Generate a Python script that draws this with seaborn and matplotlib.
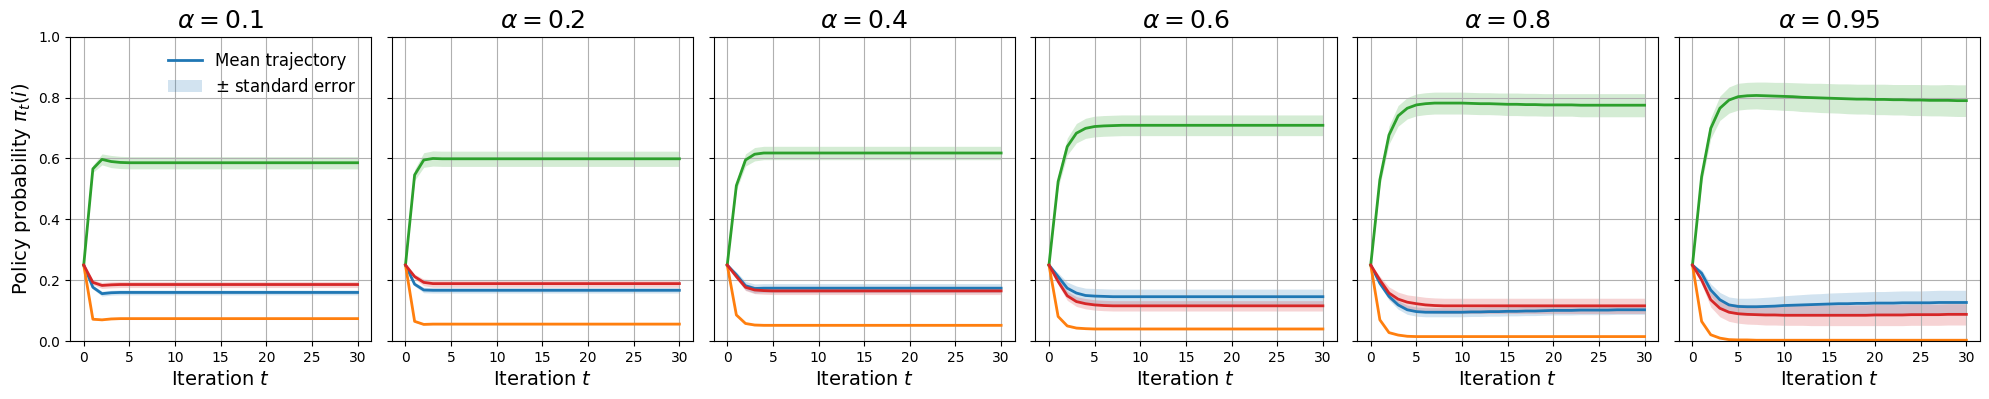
import matplotlib
matplotlib.use("Agg")
import matplotlib.pyplot as plt
import seaborn as sns
from matplotlib.lines import Line2D
from matplotlib.patches import Patch

iterations = list(range(31))
alphas = ["0.1", "0.2", "0.4", "0.6", "0.8", "0.95"]
colors = ["#1f77b4", "#ff7f0e", "#2ca02c", "#d62728"]

# alpha = 0.1
a01_blue = [0.250, 0.177, 0.156, 0.159, 0.160, 0.160, 0.160, 0.160, 0.160, 0.160,
            0.160, 0.160, 0.160, 0.160, 0.160, 0.160, 0.160, 0.160, 0.160, 0.160,
            0.160, 0.160, 0.160, 0.160, 0.160, 0.160, 0.160, 0.160, 0.160, 0.160, 0.160]
a01_orange = [0.250, 0.072, 0.070, 0.073, 0.074, 0.074, 0.074, 0.074, 0.074, 0.074,
              0.074, 0.074, 0.074, 0.074, 0.074, 0.074, 0.074, 0.074, 0.074, 0.074,
              0.074, 0.074, 0.074, 0.074, 0.074, 0.074, 0.074, 0.074, 0.074, 0.074, 0.074]
a01_green = [0.250, 0.566, 0.597, 0.590, 0.587, 0.586, 0.586, 0.586, 0.586, 0.586,
             0.586, 0.586, 0.586, 0.586, 0.586, 0.586, 0.586, 0.586, 0.586, 0.586,
             0.586, 0.586, 0.586, 0.586, 0.586, 0.586, 0.586, 0.586, 0.586, 0.586, 0.586]
a01_red = [0.250, 0.193, 0.183, 0.185, 0.186, 0.186, 0.186, 0.186, 0.186, 0.186,
           0.186, 0.186, 0.186, 0.186, 0.186, 0.186, 0.186, 0.186, 0.186, 0.186,
           0.186, 0.186, 0.186, 0.186, 0.186, 0.186, 0.186, 0.186, 0.186, 0.186, 0.186]
a01_blue_se = [0.000, 0.006, 0.008, 0.008, 0.008, 0.008, 0.008, 0.008, 0.008, 0.008,
               0.008, 0.008, 0.008, 0.008, 0.008, 0.008, 0.008, 0.008, 0.008, 0.008,
               0.008, 0.008, 0.008, 0.008, 0.008, 0.008, 0.008, 0.008, 0.008, 0.008, 0.008]
a01_orange_se = [0.000, 0.003, 0.003, 0.003, 0.003, 0.003, 0.003, 0.003, 0.003, 0.003,
                 0.003, 0.003, 0.003, 0.003, 0.003, 0.003, 0.003, 0.003, 0.003, 0.003,
                 0.003, 0.003, 0.003, 0.003, 0.003, 0.003, 0.003, 0.003, 0.003, 0.003, 0.003]
a01_green_se = [0.000, 0.012, 0.018, 0.020, 0.020, 0.020, 0.020, 0.020, 0.020, 0.020,
                0.020, 0.020, 0.020, 0.020, 0.020, 0.020, 0.020, 0.020, 0.020, 0.020,
                0.020, 0.020, 0.020, 0.020, 0.020, 0.020, 0.020, 0.020, 0.020, 0.020, 0.020]
a01_red_se = [0.000, 0.008, 0.010, 0.010, 0.010, 0.010, 0.010, 0.010, 0.010, 0.010,
              0.010, 0.010, 0.010, 0.010, 0.010, 0.010, 0.010, 0.010, 0.010, 0.010,
              0.010, 0.010, 0.010, 0.010, 0.010, 0.010, 0.010, 0.010, 0.010, 0.010, 0.010]

# alpha = 0.2
a02_blue = [0.250, 0.187, 0.168, 0.167, 0.167, 0.167, 0.167, 0.167, 0.167, 0.167,
            0.167, 0.167, 0.167, 0.167, 0.167, 0.167, 0.167, 0.167, 0.167, 0.167,
            0.167, 0.167, 0.167, 0.167, 0.167, 0.167, 0.167, 0.167, 0.167, 0.167, 0.167]
a02_orange = [0.250, 0.065, 0.055, 0.056, 0.056, 0.056, 0.056, 0.056, 0.056, 0.056,
              0.056, 0.056, 0.056, 0.056, 0.056, 0.056, 0.056, 0.056, 0.056, 0.056,
              0.056, 0.056, 0.056, 0.056, 0.056, 0.056, 0.056, 0.056, 0.056, 0.056, 0.056]
a02_green = [0.250, 0.546, 0.595, 0.600, 0.599, 0.599, 0.599, 0.599, 0.599, 0.599,
             0.599, 0.599, 0.599, 0.599, 0.599, 0.599, 0.599, 0.599, 0.599, 0.599,
             0.599, 0.599, 0.599, 0.599, 0.599, 0.599, 0.599, 0.599, 0.599, 0.599, 0.599]
a02_red = [0.250, 0.212, 0.193, 0.189, 0.189, 0.189, 0.189, 0.189, 0.189, 0.189,
           0.189, 0.189, 0.189, 0.189, 0.189, 0.189, 0.189, 0.189, 0.189, 0.189,
           0.189, 0.189, 0.189, 0.189, 0.189, 0.189, 0.189, 0.189, 0.189, 0.189, 0.189]
a02_blue_se = [0.000, 0.006, 0.009, 0.009, 0.009, 0.009, 0.009, 0.009, 0.009, 0.009,
               0.009, 0.009, 0.009, 0.009, 0.009, 0.009, 0.009, 0.009, 0.009, 0.009,
               0.009, 0.009, 0.009, 0.009, 0.009, 0.009, 0.009, 0.009, 0.009, 0.009, 0.009]
a02_orange_se = [0.000, 0.003, 0.003, 0.003, 0.003, 0.003, 0.003, 0.003, 0.003, 0.003,
                 0.003, 0.003, 0.003, 0.003, 0.003, 0.003, 0.003, 0.003, 0.003, 0.003,
                 0.003, 0.003, 0.003, 0.003, 0.003, 0.003, 0.003, 0.003, 0.003, 0.003, 0.003]
a02_green_se = [0.000, 0.018, 0.024, 0.025, 0.025, 0.025, 0.025, 0.025, 0.025, 0.025,
                0.025, 0.025, 0.025, 0.025, 0.025, 0.025, 0.025, 0.025, 0.025, 0.025,
                0.025, 0.025, 0.025, 0.025, 0.025, 0.025, 0.025, 0.025, 0.025, 0.025, 0.025]
a02_red_se = [0.000, 0.008, 0.011, 0.012, 0.012, 0.012, 0.012, 0.012, 0.012, 0.012,
              0.012, 0.012, 0.012, 0.012, 0.012, 0.012, 0.012, 0.012, 0.012, 0.012,
              0.012, 0.012, 0.012, 0.012, 0.012, 0.012, 0.012, 0.012, 0.012, 0.012, 0.012]

# alpha = 0.4
a04_blue = [0.250, 0.218, 0.182, 0.173, 0.174, 0.174, 0.174, 0.174, 0.174, 0.174,
            0.174, 0.174, 0.174, 0.174, 0.174, 0.174, 0.174, 0.174, 0.174, 0.174,
            0.174, 0.174, 0.174, 0.174, 0.174, 0.174, 0.174, 0.174, 0.174, 0.174, 0.174]
a04_orange = [0.250, 0.086, 0.058, 0.053, 0.052, 0.052, 0.052, 0.052, 0.052, 0.052,
              0.052, 0.052, 0.052, 0.052, 0.052, 0.052, 0.052, 0.052, 0.052, 0.052,
              0.052, 0.052, 0.052, 0.052, 0.052, 0.052, 0.052, 0.052, 0.052, 0.052, 0.052]
a04_green = [0.250, 0.511, 0.595, 0.614, 0.618, 0.618, 0.618, 0.618, 0.618, 0.618,
             0.618, 0.618, 0.618, 0.618, 0.618, 0.618, 0.618, 0.618, 0.618, 0.618,
             0.618, 0.618, 0.618, 0.618, 0.618, 0.618, 0.618, 0.618, 0.618, 0.618, 0.618]
a04_red = [0.250, 0.212, 0.177, 0.168, 0.166, 0.165, 0.165, 0.165, 0.165, 0.165,
           0.165, 0.165, 0.165, 0.165, 0.165, 0.165, 0.165, 0.165, 0.165, 0.165,
           0.165, 0.165, 0.165, 0.165, 0.165, 0.165, 0.165, 0.165, 0.165, 0.165, 0.165]
a04_blue_se = [0.000, 0.010, 0.014, 0.015, 0.015, 0.015, 0.015, 0.015, 0.015, 0.015,
               0.015, 0.015, 0.015, 0.015, 0.015, 0.015, 0.015, 0.015, 0.015, 0.015,
               0.015, 0.015, 0.015, 0.015, 0.015, 0.015, 0.015, 0.015, 0.015, 0.015, 0.015]
a04_orange_se = [0.000, 0.003, 0.003, 0.003, 0.003, 0.003, 0.003, 0.003, 0.003, 0.003,
                 0.003, 0.003, 0.003, 0.003, 0.003, 0.003, 0.003, 0.003, 0.003, 0.003,
                 0.003, 0.003, 0.003, 0.003, 0.003, 0.003, 0.003, 0.003, 0.003, 0.003, 0.003]
a04_green_se = [0.000, 0.015, 0.020, 0.022, 0.022, 0.022, 0.022, 0.022, 0.022, 0.022,
                0.022, 0.022, 0.022, 0.022, 0.022, 0.022, 0.022, 0.022, 0.022, 0.022,
                0.022, 0.022, 0.022, 0.022, 0.022, 0.022, 0.022, 0.022, 0.022, 0.022, 0.022]
a04_red_se = [0.000, 0.008, 0.011, 0.012, 0.012, 0.012, 0.012, 0.012, 0.012, 0.012,
              0.012, 0.012, 0.012, 0.012, 0.012, 0.012, 0.012, 0.012, 0.012, 0.012,
              0.012, 0.012, 0.012, 0.012, 0.012, 0.012, 0.012, 0.012, 0.012, 0.012, 0.012]

# alpha = 0.6
a06_blue = [0.250, 0.212, 0.174, 0.158, 0.150, 0.148, 0.147, 0.146, 0.146, 0.146,
            0.146, 0.146, 0.146, 0.146, 0.146, 0.146, 0.146, 0.146, 0.146, 0.146,
            0.146, 0.146, 0.146, 0.146, 0.146, 0.146, 0.146, 0.146, 0.146, 0.146, 0.146]
a06_orange = [0.250, 0.081, 0.050, 0.043, 0.041, 0.040, 0.040, 0.040, 0.040, 0.040,
              0.040, 0.040, 0.040, 0.040, 0.040, 0.040, 0.040, 0.040, 0.040, 0.040,
              0.040, 0.040, 0.040, 0.040, 0.040, 0.040, 0.040, 0.040, 0.040, 0.040, 0.040]
a06_green = [0.250, 0.524, 0.639, 0.683, 0.699, 0.705, 0.707, 0.708, 0.709, 0.709,
             0.709, 0.709, 0.709, 0.709, 0.709, 0.709, 0.709, 0.709, 0.709, 0.709,
             0.709, 0.709, 0.709, 0.709, 0.709, 0.709, 0.709, 0.709, 0.709, 0.709, 0.709]
a06_red = [0.250, 0.196, 0.149, 0.130, 0.123, 0.119, 0.117, 0.116, 0.116, 0.116,
           0.116, 0.116, 0.116, 0.116, 0.116, 0.116, 0.116, 0.116, 0.116, 0.116,
           0.116, 0.116, 0.116, 0.116, 0.116, 0.116, 0.116, 0.116, 0.116, 0.116, 0.116]
a06_blue_se = [0.000, 0.012, 0.020, 0.023, 0.024, 0.025, 0.025, 0.025, 0.025, 0.025,
               0.025, 0.025, 0.025, 0.025, 0.025, 0.025, 0.025, 0.025, 0.025, 0.025,
               0.025, 0.025, 0.025, 0.025, 0.025, 0.025, 0.025, 0.025, 0.025, 0.025, 0.025]
a06_orange_se = [0.000, 0.003, 0.003, 0.003, 0.003, 0.003, 0.003, 0.003, 0.003, 0.003,
                 0.003, 0.003, 0.003, 0.003, 0.003, 0.003, 0.003, 0.003, 0.003, 0.003,
                 0.003, 0.003, 0.003, 0.003, 0.003, 0.003, 0.003, 0.003, 0.003, 0.003, 0.003]
a06_green_se = [0.000, 0.020, 0.028, 0.032, 0.033, 0.034, 0.034, 0.034, 0.034, 0.034,
                0.034, 0.034, 0.034, 0.034, 0.034, 0.034, 0.034, 0.034, 0.034, 0.034,
                0.034, 0.034, 0.034, 0.034, 0.034, 0.034, 0.034, 0.034, 0.034, 0.034, 0.034]
a06_red_se = [0.000, 0.010, 0.015, 0.016, 0.017, 0.017, 0.017, 0.017, 0.017, 0.017,
              0.017, 0.017, 0.017, 0.017, 0.017, 0.017, 0.017, 0.017, 0.017, 0.017,
              0.017, 0.017, 0.017, 0.017, 0.017, 0.017, 0.017, 0.017, 0.017, 0.017, 0.017]

# alpha = 0.8
a08_blue = [0.250, 0.190, 0.147, 0.119, 0.103, 0.097, 0.095, 0.095, 0.095, 0.095,
            0.095, 0.096, 0.096, 0.097, 0.097, 0.098, 0.098, 0.099, 0.099, 0.100,
            0.101, 0.101, 0.101, 0.102, 0.102, 0.102, 0.102, 0.103, 0.103, 0.103, 0.103]
a08_orange = [0.250, 0.070, 0.028, 0.020, 0.016, 0.015, 0.015, 0.015, 0.015, 0.015,
              0.015, 0.015, 0.015, 0.015, 0.015, 0.015, 0.015, 0.015, 0.015, 0.015,
              0.015, 0.015, 0.015, 0.015, 0.015, 0.015, 0.015, 0.015, 0.015, 0.015, 0.015]
a08_green = [0.250, 0.530, 0.677, 0.740, 0.765, 0.776, 0.780, 0.782, 0.782, 0.782,
             0.782, 0.781, 0.780, 0.780, 0.779, 0.778, 0.778, 0.777, 0.777, 0.776,
             0.776, 0.776, 0.776, 0.775, 0.775, 0.775, 0.775, 0.775, 0.775, 0.775, 0.775]
a08_red = [0.250, 0.201, 0.158, 0.138, 0.128, 0.123, 0.119, 0.117, 0.116, 0.116,
           0.116, 0.116, 0.116, 0.116, 0.116, 0.116, 0.116, 0.116, 0.116, 0.116,
           0.116, 0.116, 0.116, 0.116, 0.116, 0.116, 0.116, 0.116, 0.116, 0.116, 0.116]
a08_blue_se = [0.000, 0.008, 0.012, 0.014, 0.015, 0.015, 0.015, 0.015, 0.015, 0.015,
               0.015, 0.015, 0.015, 0.015, 0.015, 0.015, 0.015, 0.015, 0.015, 0.015,
               0.015, 0.015, 0.015, 0.015, 0.015, 0.015, 0.015, 0.015, 0.015, 0.015, 0.015]
a08_orange_se = [0.000, 0.003, 0.002, 0.002, 0.002, 0.002, 0.002, 0.002, 0.002, 0.002,
                 0.002, 0.002, 0.002, 0.002, 0.002, 0.002, 0.002, 0.002, 0.002, 0.002,
                 0.002, 0.002, 0.002, 0.002, 0.002, 0.002, 0.002, 0.002, 0.002, 0.002, 0.002]
a08_green_se = [0.000, 0.020, 0.030, 0.034, 0.035, 0.036, 0.036, 0.036, 0.036, 0.036,
                0.036, 0.036, 0.036, 0.036, 0.036, 0.037, 0.037, 0.037, 0.037, 0.037,
                0.037, 0.037, 0.037, 0.038, 0.038, 0.038, 0.038, 0.038, 0.038, 0.038, 0.038]
a08_red_se = [0.000, 0.012, 0.020, 0.023, 0.024, 0.025, 0.025, 0.025, 0.025, 0.025,
              0.025, 0.025, 0.025, 0.025, 0.025, 0.025, 0.025, 0.025, 0.025, 0.025,
              0.025, 0.025, 0.025, 0.025, 0.025, 0.025, 0.025, 0.025, 0.025, 0.025, 0.025]

# alpha = 0.95
a095_blue = [0.250, 0.223, 0.168, 0.136, 0.119, 0.114, 0.113, 0.113, 0.114, 0.115,
             0.117, 0.118, 0.119, 0.120, 0.121, 0.122, 0.123, 0.123, 0.124, 0.124,
             0.125, 0.125, 0.125, 0.126, 0.126, 0.126, 0.126, 0.127, 0.127, 0.127, 0.127]
a095_orange = [0.250, 0.065, 0.021, 0.010, 0.005, 0.004, 0.004, 0.003, 0.003, 0.003,
               0.003, 0.003, 0.003, 0.003, 0.003, 0.003, 0.003, 0.003, 0.003, 0.003,
               0.003, 0.003, 0.003, 0.003, 0.003, 0.003, 0.003, 0.003, 0.003, 0.003, 0.003]
a095_green = [0.250, 0.540, 0.699, 0.765, 0.792, 0.803, 0.806, 0.807, 0.806, 0.805,
              0.804, 0.803, 0.801, 0.800, 0.799, 0.798, 0.797, 0.796, 0.795, 0.795,
              0.794, 0.794, 0.793, 0.793, 0.792, 0.792, 0.791, 0.791, 0.791, 0.790, 0.790]
a095_red = [0.250, 0.201, 0.136, 0.108, 0.095, 0.090, 0.088, 0.087, 0.086, 0.086,
            0.085, 0.085, 0.085, 0.085, 0.085, 0.085, 0.085, 0.085, 0.085, 0.085,
            0.086, 0.086, 0.086, 0.086, 0.087, 0.087, 0.087, 0.087, 0.088, 0.088, 0.088]
a095_blue_se = [0.000, 0.012, 0.020, 0.024, 0.026, 0.027, 0.028, 0.029, 0.030, 0.031,
                0.032, 0.033, 0.034, 0.035, 0.035, 0.036, 0.036, 0.037, 0.037, 0.038,
                0.038, 0.038, 0.039, 0.039, 0.039, 0.039, 0.040, 0.040, 0.040, 0.040, 0.040]
a095_orange_se = [0.000, 0.003, 0.002, 0.002, 0.002, 0.002, 0.002, 0.002, 0.002, 0.002,
                  0.002, 0.002, 0.002, 0.002, 0.002, 0.002, 0.002, 0.002, 0.002, 0.002,
                  0.002, 0.002, 0.002, 0.002, 0.002, 0.002, 0.002, 0.002, 0.002, 0.002, 0.002]
a095_green_se = [0.000, 0.022, 0.034, 0.040, 0.043, 0.044, 0.044, 0.044, 0.045, 0.045,
                 0.046, 0.046, 0.047, 0.047, 0.048, 0.048, 0.048, 0.049, 0.049, 0.049,
                 0.050, 0.050, 0.050, 0.050, 0.051, 0.051, 0.051, 0.051, 0.052, 0.052, 0.052]
a095_red_se = [0.000, 0.014, 0.024, 0.028, 0.030, 0.031, 0.032, 0.032, 0.033, 0.033,
               0.033, 0.033, 0.033, 0.034, 0.034, 0.034, 0.034, 0.034, 0.034, 0.034,
               0.035, 0.035, 0.035, 0.035, 0.035, 0.035, 0.035, 0.035, 0.035, 0.035, 0.035]

panel_means = [
    [a01_blue, a01_orange, a01_green, a01_red],
    [a02_blue, a02_orange, a02_green, a02_red],
    [a04_blue, a04_orange, a04_green, a04_red],
    [a06_blue, a06_orange, a06_green, a06_red],
    [a08_blue, a08_orange, a08_green, a08_red],
    [a095_blue, a095_orange, a095_green, a095_red],
]
panel_se = [
    [a01_blue_se, a01_orange_se, a01_green_se, a01_red_se],
    [a02_blue_se, a02_orange_se, a02_green_se, a02_red_se],
    [a04_blue_se, a04_orange_se, a04_green_se, a04_red_se],
    [a06_blue_se, a06_orange_se, a06_green_se, a06_red_se],
    [a08_blue_se, a08_orange_se, a08_green_se, a08_red_se],
    [a095_blue_se, a095_orange_se, a095_green_se, a095_red_se],
]

fig, axes = plt.subplots(1, 6, figsize=(19.9, 3.99), dpi=100, sharey=True)
fig.subplots_adjust(left=0.0352, right=0.995, top=0.908, bottom=0.145, wspace=0.068)

for ax, alpha, means, ses in zip(axes, alphas, panel_means, panel_se):
    for mean, se, color in zip(means, ses, colors):
        lower = [m - s for m, s in zip(mean, se)]
        upper = [m + s for m, s in zip(mean, se)]
        ax.fill_between(iterations, lower, upper, color=color, alpha=0.2, linewidth=0)
        sns.lineplot(x=iterations, y=mean, color=color, linewidth=2, ax=ax)
    ax.set_title(rf"$\alpha = {alpha}$", fontsize=18)
    ax.set_xlabel(r"Iteration $t$", fontsize=14)
    ax.set_ylim(0, 1)
    ax.set_xticks([0, 5, 10, 15, 20, 25, 30])
    ax.grid(True)

axes[0].set_ylabel(r"Policy probability $\pi_t(i)$", fontsize=14)
handles = [Line2D([0], [0], color=colors[0], linewidth=2),
           Patch(facecolor=colors[0], alpha=0.2)]
axes[0].legend(handles, ["Mean trajectory", r"$\pm$ standard error"],
               loc="upper right", frameon=False, fontsize=12)

fig.savefig("out.png", dpi=100)
